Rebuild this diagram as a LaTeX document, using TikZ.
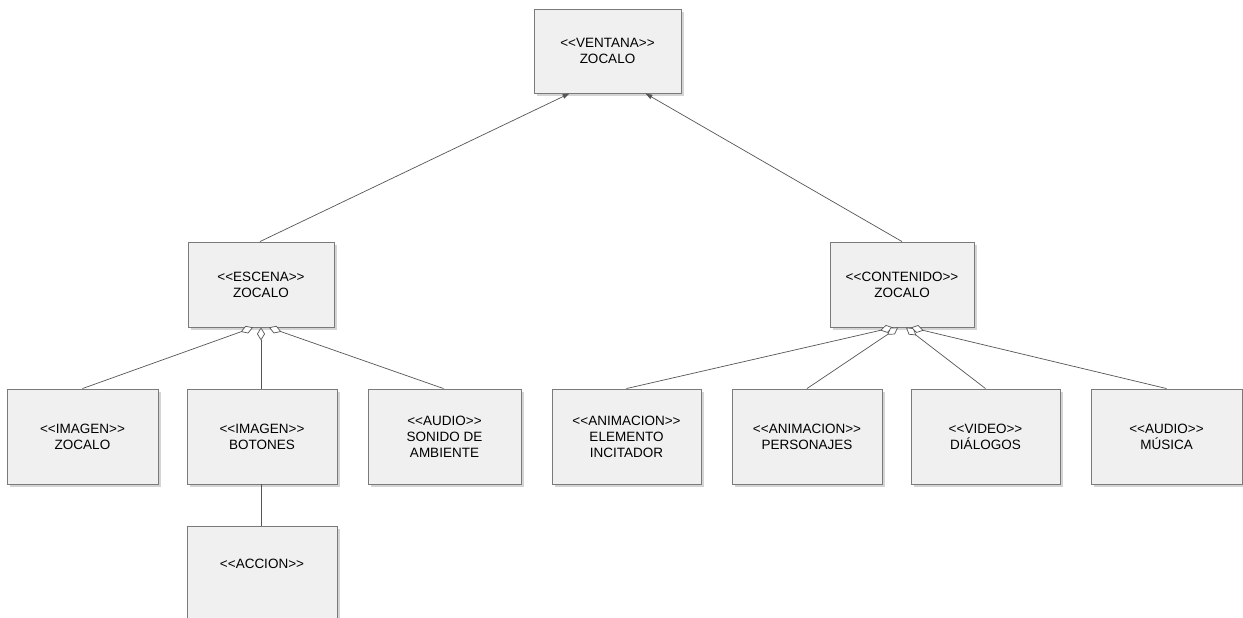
\documentclass[tikz,border=0pt]{standalone}
\usepackage{fontspec}
\setmainfont{Liberation Sans}[Ligatures=TeXOff]
\usetikzlibrary{arrows.meta,shadows,calc}
\definecolor{boxfill}{HTML}{F0F0F0}
\definecolor{boxline}{HTML}{7A7A7A}
\definecolor{linecol}{HTML}{555555}
\definecolor{shadowcol}{HTML}{D4D4D4}
\tikzset{
  umlbox/.style={draw=boxline, line width=0.9pt, fill=boxfill, align=center,
    font=\fontsize{13.5}{16}\selectfont, inner sep=0pt,
    execute at begin node={\rule{0pt}{16pt}},
    drop shadow={shadow xshift=3pt, shadow yshift=-3pt, fill=shadowcol, opacity=1}},
  conn/.style={draw=linecol, line width=0.7pt},
  nav/.style={conn, -{Triangle[length=7pt,width=4.5pt]}},
  agg/.style={conn, {Diamond[length=13pt,width=8pt,fill=white]}-}
}
\begin{document}
\begin{tikzpicture}[x=1pt,y=-1pt]
\useasboundingbox[fill=white] (0,0) rectangle (1243,618);
\node[umlbox, minimum width=147pt, minimum height=84pt] (ventana) at (607.5,51) {<{}<VENTANA>{}>\\ZOCALO};
\node[umlbox, minimum width=146pt, minimum height=85pt] (escena) at (261,284.5) {<{}<ESCENA>{}>\\ZOCALO};
\node[umlbox, minimum width=144pt, minimum height=85pt] (contenido) at (902,284.5) {<{}<CONTENIDO>{}>\\ZOCALO};
\node[umlbox, minimum width=151pt, minimum height=95pt] (iz) at (82.5,436.5) {<{}<IMAGEN>{}>\\ZOCALO};
\node[umlbox, minimum width=150pt, minimum height=95pt] (bot) at (262,436.5) {<{}<IMAGEN>{}>\\BOTONES};
\node[umlbox, minimum width=153pt, minimum height=95pt] (aud) at (444.5,436.5) {<{}<AUDIO>{}>\\SONIDO DE\\AMBIENTE};
\node[umlbox, minimum width=149pt, minimum height=95pt] (ele) at (626.5,436.5) {<{}<ANIMACION>{}>\\ELEMENTO\\INCITADOR};
\node[umlbox, minimum width=150pt, minimum height=95pt] (per) at (807,436.5) {<{}<ANIMACION>{}>\\PERSONAJES};
\node[umlbox, minimum width=149pt, minimum height=95pt] (vid) at (985.5,436.5) {<{}<VIDEO>{}>\\DIÁLOGOS};
\node[umlbox, minimum width=151pt, minimum height=95pt] (mus) at (1166.5,436.5) {<{}<AUDIO>{}>\\MÚSICA};
\node[umlbox, minimum width=150pt, minimum height=95pt] (acc) at (262,573.5) {<{}<ACCION>{}>\\[4pt]};
% navigation to ventana
\draw[nav] ($(escena.north)+(-1,0)$) -- ($(ventana.south west)+(36,0)$);
\draw[nav] (contenido.north) -- ($(ventana.south east)+(-36,0)$);
% aggregations from escena
\draw[agg] ($(escena.south)+(-8,0)$) -- (iz.north);
\draw[agg] (escena.south) -- (bot.north-|escena.south);
\draw[agg] ($(escena.south)+(8,0)$) -- ($(aud.north)+(-1,0)$);
% aggregations from contenido
\draw[agg] ($(contenido.south)+(-9,0)$) -- (ele.north);
\draw[agg] ($(contenido.south)+(-4,0)$) -- (per.north);
\draw[agg] ($(contenido.south)+(4,0)$) -- (vid.north);
\draw[agg] ($(contenido.south)+(9,0)$) -- (mus.north);
% botones to accion
\draw[conn] (bot.south-|escena.south) -- (acc.north-|escena.south);
\end{tikzpicture}
\end{document}
